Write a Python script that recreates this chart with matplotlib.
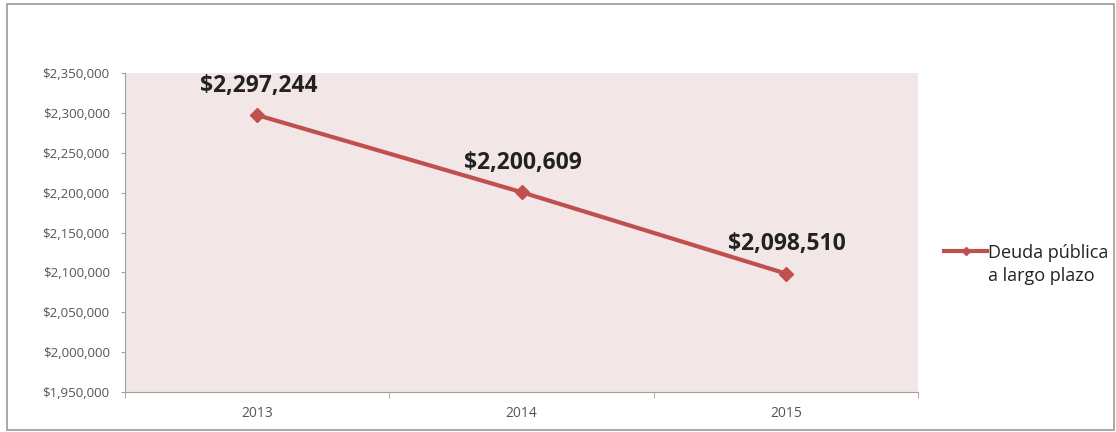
import matplotlib.pyplot as plt
from matplotlib.lines import Line2D
from matplotlib.patches import Rectangle
from matplotlib.ticker import FuncFormatter

years = ['2013', '2014', '2015']
deuda = [2297244, 2200609, 2098510]
y_ticks = [1950000, 2000000, 2050000, 2100000, 2150000, 2200000, 2250000, 2300000, 2350000]
serie = ['Deuda pública', 'a largo plazo']

plt.rcParams['font.family'] = ['Open Sans', 'DejaVu Sans']

fig = plt.figure(figsize=(11.16, 4.32), dpi=100)
# marco gris de la imagen
fig.patches.append(Rectangle((7 / 1116, 2 / 432), 1107 / 1116, 426 / 432, transform=fig.transFigure,
                             fill=False, edgecolor='#9a9a9a', linewidth=1.2))

ax = fig.add_axes([0.112, 0.0926, 0.7106, 0.7384])
ax.set_facecolor('#f2e6e6')

x = range(len(years))
ax.plot(x, deuda, color='#c0504d', linewidth=3, marker='D', markersize=7)

for i, v in enumerate(deuda):
    ax.annotate('${:,}'.format(v), (i, v), xytext=(1, 21), textcoords='offset points',
                ha='center', va='center', fontsize=16.5, fontweight='bold', color='#222222')

ax.set_xlim(-0.5, len(years) - 0.5)
ax.set_ylim(y_ticks[0], y_ticks[-1])
ax.set_yticks(y_ticks)
ax.yaxis.set_major_formatter(FuncFormatter(lambda v, p: '${:,.0f}'.format(v)))
ax.set_xticks(list(x))
ax.set_xticklabels(years, fontsize=10)
ax.set_xticks([-0.5, 0.5, 1.5, 2.5], minor=True)
ax.tick_params(axis='x', which='major', length=0, pad=10)
ax.tick_params(axis='x', which='minor', length=4, color='#a0a0a0')
ax.tick_params(axis='y', length=3, color='#a0a0a0', pad=8, labelsize=9.5)
ax.tick_params(labelcolor='#555555')

for s in ['top', 'right']:
    ax.spines[s].set_visible(False)
for s in ['left', 'bottom']:
    ax.spines[s].set_color('#a0a0a0')

# leyenda: marca a la altura de la primera línea del texto
handle = Line2D([], [], color='#c0504d', linewidth=3, marker='D', markersize=4)
leg = fig.legend([handle], [serie[0]], loc='upper left', bbox_to_anchor=(0.846, 0.436),
                 frameon=False, fontsize=13, handlelength=2.4, handletextpad=0.05,
                 borderaxespad=0, borderpad=0)
fig.canvas.draw()
bb = leg.get_texts()[0].get_window_extent().transformed(fig.transFigure.inverted())
fig.text(bb.x0, bb.y0 - 0.012, serie[1], fontsize=13, color='#222222', ha='left', va='top')
leg.get_texts()[0].set_color('#222222')

fig.savefig('out.png', dpi=100)
